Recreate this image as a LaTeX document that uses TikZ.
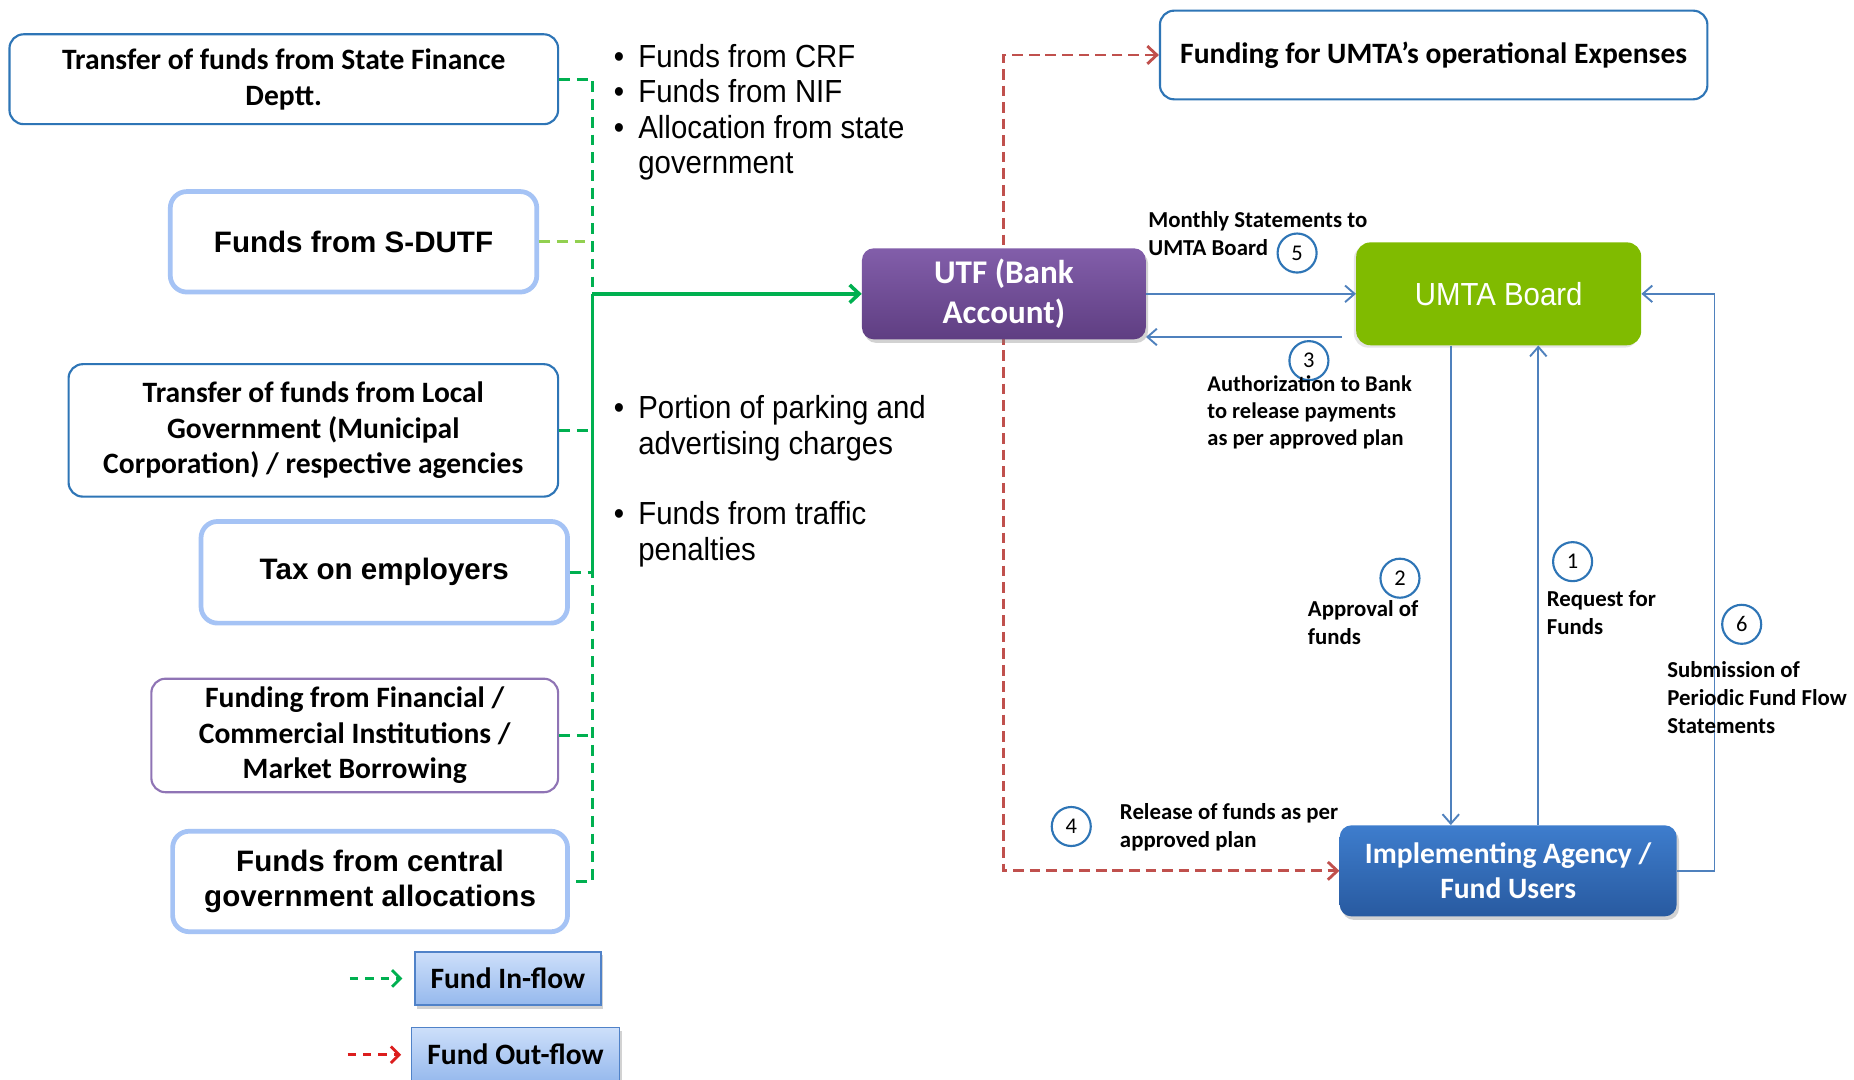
\documentclass[tikz,border=0pt]{standalone}
\usepackage{fontspec}
\setmainfont{Carlito}
\newfontfamily\arialf{Liberation Sans}
\newfontfamily\arialn[FakeStretch=0.92]{Liberation Sans}
\usetikzlibrary{arrows.meta,shadows,backgrounds,calc}
\definecolor{bluebd}{RGB}{46,117,182}
\definecolor{lightbd}{RGB}{165,195,245}
\definecolor{purplebd}{RGB}{143,116,181}
\definecolor{utftop}{RGB}{130,94,170}
\definecolor{utfbot}{RGB}{95,62,130}
\definecolor{umtagreen}{RGB}{128,187,0}
\definecolor{impltop}{RGB}{62,125,205}
\definecolor{implbot}{RGB}{40,90,160}
\definecolor{legtop}{RGB}{205,223,250}
\definecolor{legbot}{RGB}{150,185,237}
\definecolor{legbd}{RGB}{80,130,200}
\definecolor{ggreen}{RGB}{0,176,80}
\definecolor{ygreen}{RGB}{146,208,80}
\definecolor{rred}{RGB}{192,80,77}
\definecolor{lred}{RGB}{220,30,30}
\definecolor{barrowc}{RGB}{79,129,189}
\newcommand{\mlines}[1]{\begin{tabular}[t]{@{}l@{}}#1\end{tabular}}
\begin{document}
\begin{tikzpicture}[x=1pt,y=-1pt,
  thinbox/.style={draw=bluebd, line width=1.8pt, rounded corners=12pt, fill=white, align=center,
    inner sep=2pt, font=\fontsize{25}{30}\selectfont\bfseries},
  thickbox/.style={draw=lightbd, line width=4pt, rounded corners=14pt, fill=white, align=center,
    inner sep=2pt, font=\arialf\fontsize{25}{30}\selectfont\bfseries},
  legbox/.style={draw=legbd, line width=1.5pt, top color=legtop, bottom color=legbot,
    font=\fontsize{25}{28}\selectfont\bfseries, inner sep=2pt,
    drop shadow={opacity=0.35, shadow xshift=2pt, shadow yshift=-3pt}},
  numc/.style={circle, draw=bluebd, line width=1.8pt, minimum size=33pt, inner sep=0pt,
    font=\fontsize{19}{19}\selectfont},
  lbl/.style={inner sep=0pt, font=\fontsize{19.3}{24}\selectfont\bfseries},
  bul/.style={inner sep=0pt, font=\arialn\fontsize{27}{30}\selectfont},
  tipb/.tip={Straight Barb[length=8pt,width=14pt]},
  gdash/.style={draw=ggreen, line width=2.4pt, dash pattern=on 9pt off 6pt},
  gsolid/.style={draw=ggreen, line width=2.4pt},
  garrow/.style={draw=ggreen, line width=3pt, -{Straight Barb[length=8pt,width=15pt]}},
  rdash/.style={draw=rred, line width=2.4pt, dash pattern=on 9pt off 5pt},
  barrow/.style={draw=barrowc, line width=1.6pt, -tipb}
]
\useasboundingbox (0,0) rectangle (1568,913);

% source boxes
\node[thinbox, minimum width=464pt, minimum height=76pt] (src1) at (240,67) {Transfer of funds from State Finance\\Deptt.};
\node[thickbox, minimum width=310pt, minimum height=85pt] (src2) at (299,204.5) {Funds from S-DUTF};
\node[thinbox, minimum width=414pt, minimum height=112pt] (src3) at (265,364) {Transfer of funds from Local\\Government (Municipal\\Corporation) / respective agencies};
\node[thickbox, minimum width=310pt, minimum height=86pt] (src4) at (325,484) {Tax on employers};
\node[thinbox, draw=purplebd, minimum width=344pt, minimum height=96pt] (src5) at (300,622) {Funding from Financial /\\Commercial Institutions /\\Market Borrowing};
\node[thickbox, minimum width=334pt, minimum height=85pt] (src6) at (313,745.5) {Funds from central\\government allocations};

% legend
\node[legbox, minimum width=157pt, minimum height=45pt] (legin) at (429.5,827.5) {Fund In-flow};
\node[legbox, minimum width=176pt, minimum height=46pt] (legout) at (436,892) {Fund Out-flow};

% main nodes
\node[rounded corners=10pt, top color=utftop, bottom color=utfbot, minimum width=240pt, minimum height=77pt,
  text=white, align=center, font=\fontsize{28}{34}\selectfont\bfseries,
  drop shadow={opacity=0.35, shadow xshift=2pt, shadow yshift=-3pt}] (utf) at (849,248.5) {UTF (Bank\\Account)};
\node[rounded corners=12pt, fill=umtagreen, minimum width=241pt, minimum height=87pt,
  text=white, font=\arialn\fontsize{27}{30}\selectfont,
  drop shadow={opacity=0.2, shadow xshift=-2pt, shadow yshift=-2pt}] (umta) at (1267.5,248.5) {UMTA Board};
\node[rounded corners=10pt, top color=impltop, bottom color=implbot, minimum width=285pt, minimum height=77pt,
  text=white, align=center, font=\fontsize{25}{30}\selectfont\bfseries,
  drop shadow={opacity=0.35, shadow xshift=2pt, shadow yshift=-3pt}] (impl) at (1275.5,736.5) {Implementing Agency /\\Fund Users};
\node[thinbox, minimum width=463pt, minimum height=75pt, font=\fontsize{25}{28}\selectfont\bfseries] (fundop) at (1212.5,46.5) {Funding for UMTA’s operational Expenses};

% bullets
\node[bul, anchor=base west] (bl1) at (519,57) {\begin{tabular}[t]{@{}l@{\hspace{12pt}}l@{}}\textbullet & Funds from CRF\\ \textbullet & Funds from NIF\\ \textbullet & Allocation from state\\ & government\end{tabular}};
\node[bul, anchor=base west] (bl2) at (519,354) {\begin{tabular}[t]{@{}l@{\hspace{12pt}}l@{}}\textbullet & Portion of parking and\\ & advertising charges\end{tabular}};
\node[bul, anchor=base west] (bl3) at (519,444) {\begin{tabular}[t]{@{}l@{\hspace{12pt}}l@{}}\textbullet & Funds from traffic\\ & penalties\end{tabular}};

% green in-flow connectors
\coordinate (gx) at (501,0);
\coordinate (gj) at (501,248.5);
\draw[gdash] (src1.east) -- (src1.east -| gx) -- (gj);
\draw[gdash, draw=ygreen] (src2.east) -- (src2.east -| gx);
\draw[gsolid] (gj) -- (src4.east -| gx);
\draw[gdash] (src3.east) -- (src3.east -| gx);
\draw[gdash] (src4.east) -- (src4.east -| gx) -- (src6.east -| gx) -- (src6.east);
\draw[gdash] (src5.east) -- (src5.east -| gx);
\draw[garrow] (gj) -- (utf.west);

% legend arrows
\coordinate (lgi) at (296,827.5);
\draw[draw=ggreen, line width=2.4pt, dash pattern=on 7pt off 6pt, -{Straight Barb[length=7pt,width=14pt]}, shorten >=10pt] (lgi) -- (legin.west);
\coordinate (lgo) at (294,892);
\draw[draw=lred, line width=2.4pt, dash pattern=on 7pt off 6pt, -{Straight Barb[length=7pt,width=14pt]}, shorten >=8pt] (lgo) -- (legout.west);

% red out-flow connector (behind UTF box)
\coordinate (rx) at (849,0);
\begin{scope}[on background layer]
\fill[white] (0,0) rectangle (1568,913);
\draw[rdash, {Straight Barb[length=8pt,width=15pt]}-{Straight Barb[length=8pt,width=15pt]}]
  (fundop.west) -- (fundop.west -| rx) -- (impl.west -| rx) -- (impl.west);
\end{scope}

% blue connectors
\draw[barrow] (utf.east) -- (umta.west);
\coordinate (a3) at (1135,285);
\draw[barrow] (a3) -- (a3 -| utf.east);
\coordinate (x2) at (1227,0);
\draw[barrow] (umta.south -| x2) -- (impl.north -| x2);
\coordinate (x1) at (1301,0);
\draw[barrow] (impl.north -| x1) -- (umta.south -| x1);
\coordinate (x6) at (1450,0);
\draw[barrow] (impl.east) -- (impl.east -| x6) -- (umta.east -| x6) -- (umta.east);

% numbered circles
\node[numc] (c5) at (1097,214) {5};
\node[numc] (c3) at (1107,305) {3};
\node[numc] (c2) at (1184,489) {2};
\node[numc] (c1) at (1330,475) {1};
\node[numc] (c6) at (1473,528) {6};
\node[numc] (c4) at (906,699) {4};

% labels
\node[lbl, anchor=base west] (l5) at (971,192) {\mlines{Monthly Statements to\\UMTA Board}};
\node[lbl, anchor=base west, font=\fontsize{19}{23}\selectfont\bfseries] (l3) at (1021,331) {\mlines{Authorization to Bank\\to release payments\\as per approved plan}};
\node[lbl, anchor=base west] (l2) at (1106,521) {\mlines{Approval of\\funds}};
\node[lbl, anchor=base west] (l1) at (1308,513) {\mlines{Request for\\Funds}};
\node[lbl, anchor=base west, font=\fontsize{19.3}{23.5}\selectfont\bfseries] (l6) at (1410,573) {\mlines{Submission of\\Periodic Fund Flow\\Statements}};
\node[lbl, anchor=base west] (l4) at (947,693) {\mlines{Release of funds as per\\approved plan}};
\end{tikzpicture}
\end{document}
